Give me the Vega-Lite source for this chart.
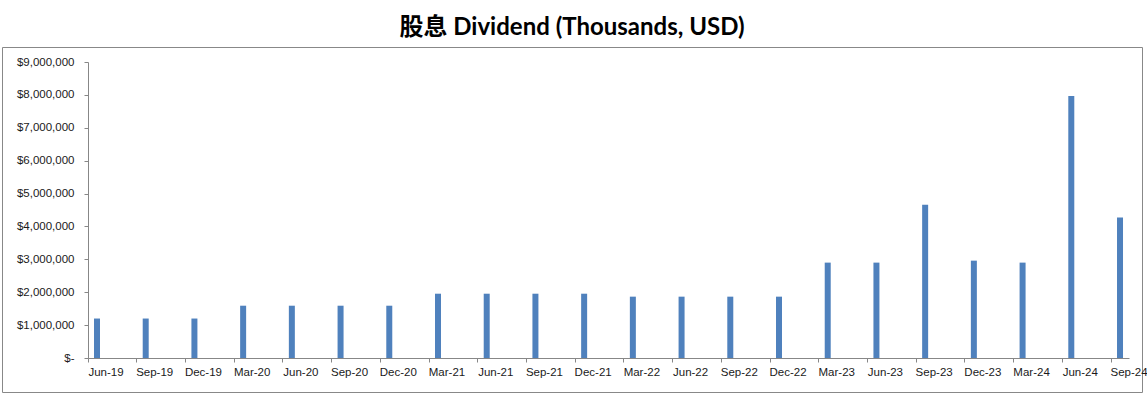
{
  "$schema": "https://vega.github.io/schema/vega-lite/v6.json",
  "width": 1140,
  "height": 345,
  "autosize": {"type": "none"},
  "padding": {"left": 2, "top": 47, "right": 5, "bottom": 9},
  "background": "#ffffff",
  "title": {
    "text": "股息 Dividend (Thousands, USD)",
    "font": "Lato, Noto Sans CJK SC",
    "fontSize": 24,
    "fontWeight": "bold",
    "color": "#000000",
    "anchor": "middle",
    "offset": 7
  },
  "config": {
    "view": {"stroke": "#888888", "strokeWidth": 1},
    "axis": {
      "labelFont": "Liberation Sans",
      "labelFontSize": 11.5,
      "labelColor": "#1a1a1a",
      "domainColor": "#878787",
      "tickColor": "#878787",
      "grid": false,
      "title": null
    }
  },
  "data": {
    "values": [
      {"quarter": "Jun-19", "dividend": 1200000},
      {"quarter": "Sep-19", "dividend": 1200000},
      {"quarter": "Dec-19", "dividend": 1200000},
      {"quarter": "Mar-20", "dividend": 1590000},
      {"quarter": "Jun-20", "dividend": 1590000},
      {"quarter": "Sep-20", "dividend": 1590000},
      {"quarter": "Dec-20", "dividend": 1590000},
      {"quarter": "Mar-21", "dividend": 1955000},
      {"quarter": "Jun-21", "dividend": 1955000},
      {"quarter": "Sep-21", "dividend": 1955000},
      {"quarter": "Dec-21", "dividend": 1955000},
      {"quarter": "Mar-22", "dividend": 1865000},
      {"quarter": "Jun-22", "dividend": 1865000},
      {"quarter": "Sep-22", "dividend": 1865000},
      {"quarter": "Dec-22", "dividend": 1865000},
      {"quarter": "Mar-23", "dividend": 2900000},
      {"quarter": "Jun-23", "dividend": 2900000},
      {"quarter": "Sep-23", "dividend": 4660000},
      {"quarter": "Dec-23", "dividend": 2960000},
      {"quarter": "Mar-24", "dividend": 2900000},
      {"quarter": "Jun-24", "dividend": 7970000},
      {"quarter": "Sep-24", "dividend": 4270000}
    ]
  },
  "mark": {"type": "bar", "color": "#4f81bd", "width": 6},
  "encoding": {
    "x": {
      "field": "quarter",
      "type": "nominal",
      "sort": null,
      "scale": {"type": "band", "range": [86, 1127], "paddingInner": 0.631, "paddingOuter": 0},
      "axis": {
        "orient": "bottom",
        "offset": -34,
        "bandPosition": 0,
        "labelOffset": 9,
        "labelAngle": 0,
        "tickSize": 4,
        "labelPadding": 4,
        "labelOverlap": false
      }
    },
    "y": {
      "field": "dividend",
      "type": "quantitative",
      "scale": {"domain": [0, 9000000], "range": [311, 15], "nice": false, "zero": true},
      "axis": {
        "orient": "left",
        "offset": -86,
        "values": [0, 1000000, 2000000, 3000000, 4000000, 5000000, 6000000, 7000000, 8000000, 9000000],
        "labelExpr": "datum.value == 0 ? '$-' : '$' + format(datum.value, ',')",
        "tickSize": 4,
        "labelPadding": 10
      }
    }
  }
}
